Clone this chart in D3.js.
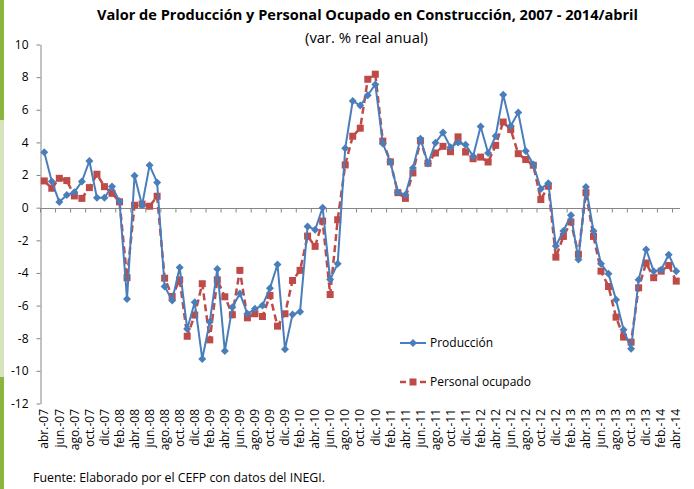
<!DOCTYPE html>
<html>
<head>
<meta charset="utf-8">
<script src="https://cdn.jsdelivr.net/npm/d3@7"></script>
<style>
  body { margin: 0; background: #fff; }
  svg text { font-family: "Open Sans", "Noto Sans", sans-serif; fill: #000; }
</style>
</head>
<body>
<div id="chart"></div>
<script>
// meses abr-07 ... abr-14
const mesesCorto = ["ene.", "feb.", "mar.", "abr.", "may.", "jun.", "jul.", "ago.", "sep.", "oct.", "nov.", "dic."];
const tickLabels = ["abr.-07","jun.-07","ago.-07","oct.-07","dic.-07","feb.-08","abr.-08","jun.-08","ago.-08","oct.-08","dic.-08",
  "feb.-09","abr.-09","jun.-09","ago.-09","oct.-09","dic.-09","feb.-10","abr.-10","jun.-10","ago.-10","oct.-10","dic.-10",
  "feb.-11","abr.-11","jun.-11","ago.-11","oct.-11","dic.-11","feb.-12","abr.-12","jun.-12","ago.-12","oct.-12","dic.-12",
  "feb.-13","abr.-13","jun.-13","ago.-13","oct.-13","dic.-13","feb.-14","abr.-14"];
const yTicks = [10, 8, 6, 4, 2, 0, -2, -4, -6, -8, -10, -12];

const produccion = [3.4, 1.6, 0.35, 0.78, 0.95, 1.6, 2.86, 0.61, 0.61, 1.3, 0.4, -5.6,
  1.95, 0.15, 2.6, 1.55, -4.83, -5.69, -3.67, -7.43, -5.8, -9.27, -7.0, -3.75,
  -8.79, -6.1, -5.26, -6.5, -6.2, -6.0, -4.93, -3.48, -8.67, -6.54, -6.38, -1.15,
  -1.35, 0.0, -4.4, -3.44, 3.64, 6.54, 6.26, 6.89, 7.55, 3.93, 2.8, 0.95,
  0.8, 2.43, 4.22, 2.7, 3.98, 4.6, 3.7, 4.0, 3.86, 3.15, 4.97, 3.35,
  4.4, 6.92, 5.0, 5.83, 3.48, 2.65, 1.15, 1.5, -2.35, -1.43, -0.47, -3.17,
  1.27, -1.43, -3.44, -4.05, -5.64, -7.48, -8.65, -4.42, -2.56, -3.89, -3.8, -2.88,
  -3.89];
const personal = [1.64, 1.19, 1.8, 1.66, 0.72, 0.57, 1.23, 2.05, 1.29, 0.88, 0.36, -4.29,
  0.15, 0.22, 0.09, 0.7, -4.32, -5.44, -4.42, -7.88, -6.58, -4.66, -8.1, -4.42,
  -5.46, -6.56, -3.84, -6.75, -6.5, -6.67, -5.38, -7.26, -6.5, -4.46, -3.84, -1.74,
  -2.37, -0.82, -5.32, -0.74, 2.62, 4.38, 4.87, 7.87, 8.18, 4.08, 2.81, 0.92,
  0.57, 2.13, 4.1, 2.72, 3.35, 3.76, 3.43, 4.34, 3.41, 3.0, 3.1, 2.8,
  3.82, 5.25, 4.79, 3.31, 2.95, 2.6, 0.5, 1.32, -3.03, -1.76, -0.88, -2.86,
  0.92, -1.76, -3.89, -4.83, -6.71, -7.93, -8.24, -4.91, -3.39, -4.29, -3.89, -3.54,
  -4.5];

const w = 694, h = 489;
const azul = "#4a7ebb", rojo = "#be4b48", gris = "#868686";

// categorias mensuales
const cats = produccion.map((d, i) => {
  const m = (3 + i) % 12, y = 7 + Math.floor((3 + i) / 12);
  return mesesCorto[m] + "-" + String(y).padStart(2, "0");
});

const svg = d3.select("#chart").append("svg")
  .attr("width", w).attr("height", h);

// franja verde a la izquierda
svg.append("rect").attr("x", 0).attr("y", 0).attr("width", 4).attr("height", 120).attr("fill", "#8ab53f");
svg.append("rect").attr("x", 0).attr("y", 120).attr("width", 4).attr("height", 257).attr("fill", "#d6e4bd");
svg.append("rect").attr("x", 0).attr("y", 377).attr("width", 4).attr("height", 112).attr("fill", "#8ab53f");

const xScale = d3.scaleBand().domain(cats).range([40.5, 680]);
const bw = xScale.bandwidth();
const cx = c => xScale(c) + bw / 2;
const yScale = d3.scaleLinear().domain([-12, 10]).range([403.5, 44.5]);

// eje y
svg.append("g")
  .attr("transform", "translate(40.5,0)")
  .call(d3.axisLeft(yScale).tickValues(yTicks).tickSize(4).tickSizeOuter(0).tickPadding(8).tickFormat(d => d))
  .call(g => g.select(".domain").attr("stroke", gris))
  .call(g => g.selectAll(".tick line").attr("stroke", gris))
  .call(g => g.selectAll("text").style("font-size", "12px"));

// eje x en cero
const y0 = Math.round(yScale(0)) + 0.5;
svg.append("line")
  .attr("x1", 40.5).attr("x2", 680).attr("y1", y0).attr("y2", y0)
  .attr("stroke", gris);
svg.append("g").selectAll("line")
  .data(d3.range(0, cats.length + 1, 2))
  .join("line")
  .attr("x1", i => (i < cats.length ? xScale(cats[i]) : 680))
  .attr("x2", i => (i < cats.length ? xScale(cats[i]) : 680))
  .attr("y1", y0).attr("y2", y0 + 4)
  .attr("stroke", gris);

svg.append("g").selectAll("text")
  .data(tickLabels)
  .join("text")
  .attr("transform", (d, k) => `translate(${cx(cats[k * 2])},409) rotate(-90)`)
  .attr("text-anchor", "end")
  .attr("dy", "0.35em")
  .style("font-size", "12px")
  .text(d => d);

// series
const line = d3.line().x((d, i) => cx(cats[i])).y(d => yScale(d));

const diamond = r => `M0,${-r}L${r},0L0,${r}L${-r},0Z`;

const gPers = svg.append("g");
gPers.append("path")
  .attr("d", line(personal))
  .attr("fill", "none")
  .attr("stroke", rojo)
  .attr("stroke-width", 2.5)
  .attr("stroke-dasharray", "7,4");
gPers.selectAll("rect")
  .data(personal)
  .join("rect")
  .attr("x", (d, i) => cx(cats[i]) - 3.5)
  .attr("y", d => yScale(d) - 3.5)
  .attr("width", 7).attr("height", 7)
  .attr("fill", rojo);

const gProd = svg.append("g");
gProd.append("path")
  .attr("d", line(produccion))
  .attr("fill", "none")
  .attr("stroke", azul)
  .attr("stroke-width", 2);
gProd.selectAll("path.m")
  .data(produccion)
  .join("path")
  .attr("class", "m")
  .attr("transform", (d, i) => `translate(${cx(cats[i])},${yScale(d)})`)
  .attr("d", diamond(4))
  .attr("fill", azul);

// leyenda
const legend = svg.append("g");
legend.append("line").attr("x1", 400).attr("x2", 426).attr("y1", 343).attr("y2", 343)
  .attr("stroke", azul).attr("stroke-width", 2);
legend.append("path").attr("transform", "translate(413,343)").attr("d", diamond(4)).attr("fill", azul);
legend.append("text").attr("x", 430).attr("y", 343).attr("dy", "0.35em")
  .style("font-size", "12px").text("Producción");

legend.append("line").attr("x1", 400).attr("x2", 427).attr("y1", 382).attr("y2", 382)
  .attr("stroke", rojo).attr("stroke-width", 2.5).attr("stroke-dasharray", "6,4");
legend.append("rect").attr("x", 409.5).attr("y", 378.5).attr("width", 7).attr("height", 7).attr("fill", rojo);
legend.append("text").attr("x", 430).attr("y", 382).attr("dy", "0.35em")
  .style("font-size", "12px").text("Personal ocupado");

// titulos
svg.append("text")
  .attr("x", 97).attr("y", 20)
  .attr("textLength", 541).attr("lengthAdjust", "spacingAndGlyphs")
  .style("font-size", "14px").style("font-weight", "bold")
  .text("Valor de Producción y Personal Ocupado en Construcción, 2007 - 2014/abril");
svg.append("text")
  .attr("x", 305).attr("y", 43)
  .attr("textLength", 123).attr("lengthAdjust", "spacingAndGlyphs")
  .style("font-size", "14px")
  .text("(var. % real anual)");

svg.append("text")
  .attr("x", 33).attr("y", 482)
  .attr("textLength", 292).attr("lengthAdjust", "spacingAndGlyphs")
  .style("font-size", "12px")
  .text("Fuente: Elaborado por el CEFP con datos del INEGI.")
</script>
</body>
</html>
